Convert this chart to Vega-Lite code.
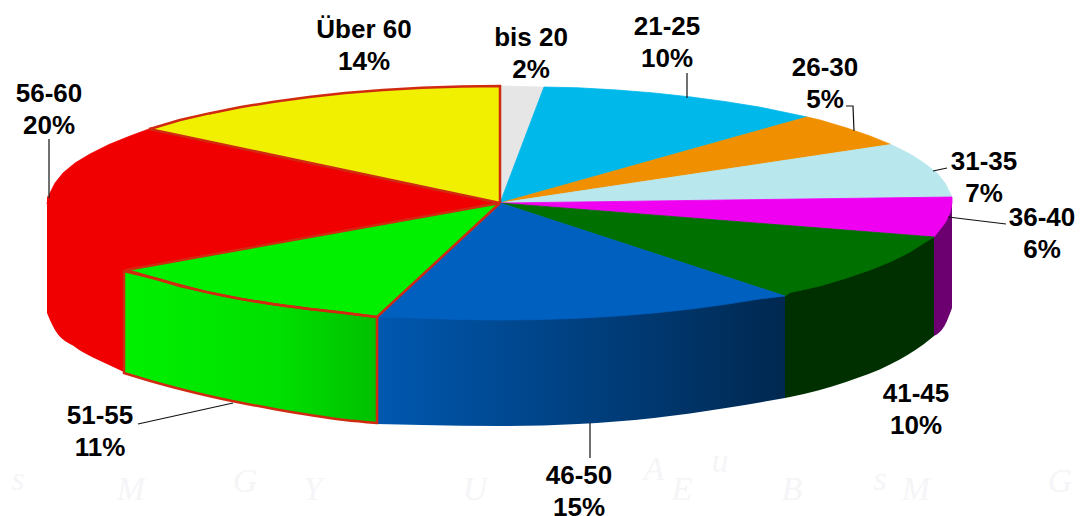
{"$schema":"https://vega.github.io/schema/vega-lite/v6.json","width":1080,"height":516,"autosize":{"type":"none"},"padding":0,"background":"white","view":{"stroke":null},
"datasets":{
"faint":[{"t":"M","x":131,"y":490},{"t":"G","x":245,"y":482},{"t":"Y","x":313,"y":490},{"t":"U","x":475,"y":490},{"t":"A","x":654,"y":470},{"t":"E","x":682,"y":490},{"t":"B","x":792,"y":490},{"t":"M","x":916,"y":490},{"t":"G","x":1060,"y":482},{"t":"s","x":18,"y":480},{"t":"u","x":720,"y":462},{"t":"s","x":880,"y":480}],
"sides":[
{"slice":"36-40","x":934,"y":232,"y2":336},{"slice":"36-40","x":945,"y":220,"y2":325},{"slice":"36-40","x":952,"y":197,"y2":308},
{"slice":"41-45","x":785,"y":292,"y2":398},{"slice":"41-45","x":790,"y":290,"y2":397},{"slice":"41-45","x":846,"y":275,"y2":382},{"slice":"41-45","x":891,"y":258,"y2":364},{"slice":"41-45","x":924,"y":239,"y2":344},{"slice":"41-45","x":934,"y":232,"y2":336},
{"slice":"46-50","x":377,"y":314,"y2":424},{"slice":"46-50","x":422,"y":316,"y2":425},{"slice":"46-50","x":500,"y":318,"y2":426},{"slice":"46-50","x":578,"y":316,"y2":424},{"slice":"46-50","x":654,"y":311,"y2":418},{"slice":"46-50","x":726,"y":302,"y2":408},{"slice":"46-50","x":785,"y":293,"y2":398},
{"slice":"51-55","x":124,"y":271,"y2":373},{"slice":"51-55","x":154,"y":278.2,"y2":382},{"slice":"51-55","x":209,"y":292.6,"y2":396},{"slice":"51-55","x":274,"y":304.3,"y2":409},{"slice":"51-55","x":345,"y":313,"y2":420},{"slice":"51-55","x":377,"y":317,"y2":423},
{"slice":"56-60","x":47,"y":195,"y2":313},{"slice":"56-60","x":55,"y":215,"y2":330},{"slice":"56-60","x":75,"y":235,"y2":347},{"slice":"56-60","x":109,"y":255,"y2":365},{"slice":"56-60","x":126,"y":262,"y2":373}],
"tops":[
{"slice":"bis 20","i":0,"x":500,"y":203},{"slice":"bis 20","i":1,"x":500,"y":86},{"slice":"bis 20","i":2,"x":544,"y":87},{"slice":"bis 20","i":3,"x":500,"y":203},
{"slice":"21-25","i":0,"x":500,"y":203},{"slice":"21-25","i":1,"x":544,"y":87},{"slice":"21-25","i":2,"x":578,"y":87.8},{"slice":"21-25","i":3,"x":617,"y":90},{"slice":"21-25","i":4,"x":654,"y":93},{"slice":"21-25","i":5,"x":691,"y":97},{"slice":"21-25","i":6,"x":726,"y":101.7},{"slice":"21-25","i":7,"x":759,"y":107},{"slice":"21-25","i":8,"x":790,"y":113.4},{"slice":"21-25","i":9,"x":807,"y":117},{"slice":"21-25","i":10,"x":500,"y":203},
{"slice":"26-30","i":0,"x":500,"y":203},{"slice":"26-30","i":1,"x":807,"y":117},{"slice":"26-30","i":2,"x":820,"y":120},{"slice":"26-30","i":3,"x":846,"y":127.8},{"slice":"26-30","i":4,"x":870,"y":136},{"slice":"26-30","i":5,"x":891,"y":144.5},{"slice":"26-30","i":6,"x":500,"y":203},
{"slice":"31-35","i":0,"x":500,"y":203},{"slice":"31-35","i":1,"x":891,"y":144.5},{"slice":"31-35","i":2,"x":910,"y":154},{"slice":"31-35","i":3,"x":924,"y":163},{"slice":"31-35","i":4,"x":937,"y":173},{"slice":"31-35","i":5,"x":945,"y":183},{"slice":"31-35","i":6,"x":950,"y":193},{"slice":"31-35","i":7,"x":952,"y":197},{"slice":"31-35","i":8,"x":500,"y":203},
{"slice":"36-40","i":0,"x":500,"y":203},{"slice":"36-40","i":1,"x":952,"y":197},{"slice":"36-40","i":2,"x":952,"y":203},{"slice":"36-40","i":3,"x":950,"y":213},{"slice":"36-40","i":4,"x":945,"y":223},{"slice":"36-40","i":5,"x":934,"y":237},{"slice":"36-40","i":6,"x":500,"y":203},
{"slice":"41-45","i":0,"x":500,"y":203},{"slice":"41-45","i":1,"x":934,"y":237},{"slice":"41-45","i":2,"x":924,"y":243},{"slice":"41-45","i":3,"x":910,"y":252},{"slice":"41-45","i":4,"x":891,"y":261.5},{"slice":"41-45","i":5,"x":870,"y":270},{"slice":"41-45","i":6,"x":846,"y":278.2},{"slice":"41-45","i":7,"x":820,"y":286},{"slice":"41-45","i":8,"x":790,"y":292.6},{"slice":"41-45","i":9,"x":785,"y":296},{"slice":"41-45","i":10,"x":500,"y":203},
{"slice":"46-50","i":0,"x":500,"y":203},{"slice":"46-50","i":1,"x":785,"y":296},{"slice":"46-50","i":2,"x":759,"y":299},{"slice":"46-50","i":3,"x":726,"y":304.3},{"slice":"46-50","i":4,"x":691,"y":309},{"slice":"46-50","i":5,"x":654,"y":313},{"slice":"46-50","i":6,"x":617,"y":316},{"slice":"46-50","i":7,"x":578,"y":318.2},{"slice":"46-50","i":8,"x":539,"y":319.6},{"slice":"46-50","i":9,"x":500,"y":320},{"slice":"46-50","i":10,"x":461,"y":319.6},{"slice":"46-50","i":11,"x":422,"y":318.2},{"slice":"46-50","i":12,"x":377,"y":317},{"slice":"46-50","i":13,"x":500,"y":203},
{"slice":"56-60","i":0,"x":500,"y":203},{"slice":"56-60","i":1,"x":126,"y":270},{"slice":"56-60","i":2,"x":109,"y":261.5},{"slice":"56-60","i":3,"x":90,"y":252},{"slice":"56-60","i":4,"x":75,"y":243},{"slice":"56-60","i":5,"x":63,"y":233},{"slice":"56-60","i":6,"x":55,"y":223},{"slice":"56-60","i":7,"x":50,"y":213},{"slice":"56-60","i":8,"x":47,"y":203},{"slice":"56-60","i":9,"x":50,"y":193},{"slice":"56-60","i":10,"x":55,"y":183},{"slice":"56-60","i":11,"x":63,"y":173},{"slice":"56-60","i":12,"x":75,"y":163},{"slice":"56-60","i":13,"x":90,"y":154},{"slice":"56-60","i":14,"x":109,"y":144.5},{"slice":"56-60","i":15,"x":130,"y":136},{"slice":"56-60","i":16,"x":149,"y":129},{"slice":"56-60","i":17,"x":500,"y":203},
{"slice":"51-55","i":0,"x":500,"y":203},{"slice":"51-55","i":1,"x":377,"y":317},{"slice":"51-55","i":2,"x":345,"y":313},{"slice":"51-55","i":3,"x":309,"y":309},{"slice":"51-55","i":4,"x":274,"y":304.3},{"slice":"51-55","i":5,"x":241,"y":299},{"slice":"51-55","i":6,"x":209,"y":292.6},{"slice":"51-55","i":7,"x":180,"y":286},{"slice":"51-55","i":8,"x":154,"y":278.2},{"slice":"51-55","i":9,"x":126,"y":270},{"slice":"51-55","i":10,"x":500,"y":203},
{"slice":"Über 60","i":0,"x":500,"y":203},{"slice":"Über 60","i":1,"x":149,"y":129},{"slice":"Über 60","i":2,"x":154,"y":127.8},{"slice":"Über 60","i":3,"x":180,"y":120},{"slice":"Über 60","i":4,"x":209,"y":113.4},{"slice":"Über 60","i":5,"x":241,"y":107},{"slice":"Über 60","i":6,"x":274,"y":101.7},{"slice":"Über 60","i":7,"x":309,"y":97},{"slice":"Über 60","i":8,"x":345,"y":93},{"slice":"Über 60","i":9,"x":383,"y":90},{"slice":"Über 60","i":10,"x":422,"y":87.8},{"slice":"Über 60","i":11,"x":461,"y":86.4},{"slice":"Über 60","i":12,"x":500,"y":86},{"slice":"Über 60","i":13,"x":500,"y":203}],
"leaders":[
{"slice":"21-25","i":0,"x":687,"y":73},{"slice":"21-25","i":1,"x":687,"y":98},
{"slice":"26-30","i":0,"x":846,"y":106},{"slice":"26-30","i":1,"x":853,"y":106},{"slice":"26-30","i":2,"x":854,"y":131},
{"slice":"31-35","i":0,"x":933,"y":171},{"slice":"31-35","i":1,"x":947,"y":168},
{"slice":"36-40","i":0,"x":948,"y":217},{"slice":"36-40","i":1,"x":1006,"y":224},
{"slice":"46-50","i":0,"x":590,"y":423},{"slice":"46-50","i":1,"x":590,"y":458},
{"slice":"51-55","i":0,"x":138,"y":424},{"slice":"51-55","i":1,"x":233,"y":403},
{"slice":"56-60","i":0,"x":49,"y":139},{"slice":"56-60","i":1,"x":49,"y":198}],
"labels":[
{"label":"Über 60\n14%","x":364,"y":30},{"label":"bis 20\n2%","x":531,"y":38},{"label":"21-25\n10%","x":667,"y":27},{"label":"26-30\n5%","x":825,"y":68},{"label":"31-35\n7%","x":984,"y":162},{"label":"36-40\n6%","x":1042,"y":218},{"label":"41-45\n10%","x":916,"y":394},{"label":"46-50\n15%","x":579,"y":476},{"label":"51-55\n11%","x":100,"y":416},{"label":"56-60\n20%","x":49,"y":94}]
},
"encoding":{
"x":{"field":"x","type":"quantitative","scale":{"domain":[0,1080],"nice":false,"zero":false},"axis":null},
"y":{"field":"y","type":"quantitative","scale":{"domain":[516,0],"nice":false,"zero":false},"axis":null}},
"layer":[
{"data":{"name":"faint"},"mark":{"type":"text","font":"Liberation Serif","fontStyle":"italic","fontSize":34,"color":"#f5f5f8"},"encoding":{"text":{"field":"t"}}},
{"data":{"name":"sides"},"transform":[{"filter":"datum.slice==='36-40'||datum.slice==='41-45'||datum.slice==='56-60'"}],"mark":{"type":"area","interpolate":"monotone"},"encoding":{"y2":{"field":"y2"},"color":{"field":"slice","type":"nominal","legend":null,"scale":{"domain":["36-40","41-45","56-60"],"range":["#6c0070","#003000","#f00000"]}}}},
{"data":{"name":"sides"},"transform":[{"filter":"datum.slice==='46-50'"}],"mark":{"type":"area","interpolate":"monotone","color":{"gradient":"linear","x1":0,"x2":1,"y1":0,"y2":0,"stops":[{"offset":0,"color":"#0058b0"},{"offset":0.5,"color":"#004080"},{"offset":1,"color":"#002850"}]}},"encoding":{"y2":{"field":"y2"}}},
{"data":{"name":"tops"},"mark":{"type":"line","strokeWidth":0.8},"encoding":{"order":{"field":"i","type":"quantitative"},
"fill":{"field":"slice","type":"nominal","legend":null,"scale":{"domain":["bis 20","21-25","26-30","31-35","36-40","41-45","46-50","51-55","56-60","Über 60"],"range":["#e6e6e6","#00b8ea","#f09000","#b8e8ee","#f000f0","#007000","#0060c0","#00f000","#f00000","#f0f000"]}},
"stroke":{"field":"slice","type":"nominal","legend":null,"scale":{"domain":["bis 20","21-25","26-30","31-35","36-40","41-45","46-50","51-55","56-60","Über 60"],"range":["#e6e6e6","#00b8ea","#f09000","#b8e8ee","#f000f0","#007000","#0060c0","#00f000","#f00000","#f0f000"]}}}},
{"data":{"name":"sides"},"transform":[{"filter":"datum.slice==='51-55'"}],"mark":{"type":"area","interpolate":"monotone","stroke":"#d02a10","strokeWidth":2.5,"color":{"gradient":"linear","x1":0,"x2":1,"y1":0,"y2":0,"stops":[{"offset":0,"color":"#00f000"},{"offset":0.6,"color":"#00e000"},{"offset":1,"color":"#00c000"}]}},"encoding":{"y2":{"field":"y2"}}},
{"data":{"name":"tops"},"transform":[{"filter":"datum.slice==='Über 60'||datum.slice==='51-55'"}],"mark":{"type":"line","stroke":"#d02a10","strokeWidth":2.5},"encoding":{"order":{"field":"i","type":"quantitative"},"detail":{"field":"slice"}}},
{"data":{"name":"leaders"},"mark":{"type":"line","stroke":"#111111","strokeWidth":1.2},"encoding":{"order":{"field":"i","type":"quantitative"},"detail":{"field":"slice"}}},
{"data":{"name":"labels"},"mark":{"type":"text","font":"Liberation Sans","fontWeight":"bold","fontSize":26,"lineBreak":"\n","lineHeight":32,"color":"#000000","align":"center","baseline":"middle"},"encoding":{"text":{"field":"label"}}}
]}
